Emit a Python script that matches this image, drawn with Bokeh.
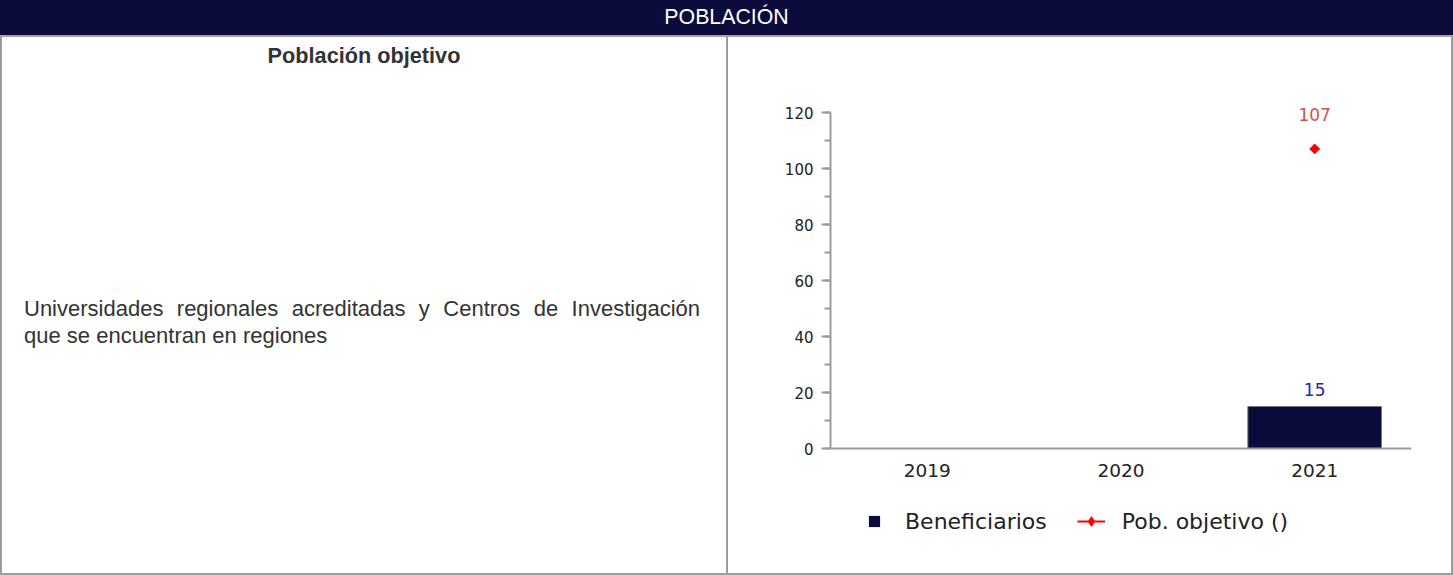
import math
from bokeh.plotting import figure
from bokeh.models import (ColumnDataSource, FactorRange, Range1d, Div, LabelSet,
                          Legend, LegendItem, SingleIntervalTicker, InlineStyleSheet)
from bokeh.layouts import column, row
from bokeh.core.properties import value
from bokeh.embed import file_html
from bokeh.resources import INLINE

# ---------------- data ----------------
years = ["2019", "2020", "2021"]
beneficiarios = [None, None, 15]
pob_objetivo = [None, None, 107]
legend_labels = ["Beneficiarios", "Pob. objetivo ()"]
header_title = "POBLACIÓN"
panel_title = "Población objetivo"
panel_line1 = "Universidades regionales acreditadas y Centros de Investigación"
panel_line2 = "que se encuentran en regiones"

# ---------------- styles ----------------
NAVY = "#0b0c3b"
BORDER = "#9c9c9c"
TXT = "#333333"
CH_FONT = "DejaVu Sans"
HTML_FONT = "'Liberation Sans', Arial, sans-serif"

W = 1453
H = 575
HEAD_H = 37
LEFT_W = 728
BODY_H = H - HEAD_H - 2
CHART_W = W - LEFT_W - 2


def host_css():
    return [InlineStyleSheet(css=":host { font-size: 0px; line-height: 0; }")]


header = Div(
    text=(f'<div style="box-sizing:border-box;width:{W}px;height:{HEAD_H}px;background:{NAVY};'
          f'border-bottom:2px solid #a3a3a3;color:#ffffff;font-family:{HTML_FONT};'
          f'font-size:21.3px;line-height:35px;text-align:center;">{header_title}</div>'),
    width=W, height=HEAD_H, margin=0, stylesheets=host_css())

left_html = (
    f'<div style="box-sizing:border-box;position:relative;width:{LEFT_W}px;height:{BODY_H}px;'
    f'border-left:2px solid {BORDER};border-right:2px solid {BORDER};font-family:{HTML_FONT};color:{TXT};">'
    f'<div style="position:absolute;left:0;top:7px;width:{LEFT_W-4}px;text-align:center;font-weight:bold;'
    f'font-size:21.7px;line-height:24px;white-space:nowrap;">{panel_title}</div>'
    f'<div style="position:absolute;left:22px;top:258px;width:676px;font-size:22px;line-height:27px;'
    f'text-align:justify;text-align-last:justify;">{panel_line1}</div>'
    f'<div style="position:absolute;left:22px;top:285px;width:676px;font-size:22px;line-height:27px;'
    f'white-space:nowrap;">{panel_line2}</div>'
    f'</div>')
left = Div(text=left_html, width=LEFT_W, height=BODY_H, margin=0, stylesheets=host_css())

# ---------------- chart ----------------
p = figure(x_range=FactorRange(factors=years), y_range=Range1d(-40, 130),
           width=CHART_W, height=BODY_H, output_backend="svg", toolbar_location=None,
           min_border_left=102, min_border_right=40, min_border_top=47, min_border_bottom=13,
           background_fill_color="white", border_fill_color="white")
p.outline_line_color = None
p.grid.visible = False

bx = [y for y, v in zip(years, beneficiarios) if v is not None]
bv = [v for v in beneficiarios if v is not None]
src_b = ColumnDataSource(dict(x=bx, top=bv, label=[str(v) for v in bv]))

px = [y for y, v in zip(years, pob_objetivo) if v is not None]
pv = [v for v in pob_objetivo if v is not None]
src_p = ColumnDataSource(dict(x=px, y=pv, label=[str(v) for v in pv]))

p.vbar(x="x", top="top", bottom=0, width=0.69, source=src_b, fill_color=NAVY,
       line_color="#777777", line_width=1)
p.scatter(x="x", y="y", source=src_p, marker="square", angle=math.pi / 4, size=7,
          fill_color="#ff0000", line_color="#ff0000")

p.add_layout(LabelSet(x="x", y="top", text="label", source=src_b, y_offset=17,
                      text_align="center", text_baseline="middle",
                      text_font=value(CH_FONT), text_font_size=value("17px"),
                      text_color="#28289c"))
p.add_layout(LabelSet(x="x", y="y", text="label", source=src_p, y_offset=34,
                      text_align="center", text_baseline="middle",
                      text_font=value(CH_FONT), text_font_size=value("17px"),
                      text_color="#d65050"))

# axes
xa = p.xaxis[0]
xa.fixed_location = 0
xa.axis_line_color = BORDER
xa.axis_line_width = 2
xa.major_tick_out = 0
xa.major_tick_in = 0
xa.major_tick_line_color = None
xa.minor_tick_line_color = None
xa.major_label_text_font = CH_FONT
xa.major_label_text_font_size = "18.5px"
xa.major_label_text_color = "#222222"
xa.major_label_standoff = 15

ya = p.yaxis[0]
ya.bounds = (0, 120)
ya.ticker = SingleIntervalTicker(interval=20, num_minor_ticks=2)
ya.axis_line_color = BORDER
ya.axis_line_width = 2
ya.major_tick_line_color = BORDER
ya.major_tick_line_width = 2
ya.major_tick_out = 9
ya.major_tick_in = 0
ya.minor_tick_line_color = BORDER
ya.minor_tick_line_width = 2
ya.minor_tick_out = 6
ya.minor_tick_in = 0
ya.major_label_text_font = CH_FONT
ya.major_label_text_font_size = "15px"
ya.major_label_text_color = "#222222"
ya.major_label_standoff = 8

# legend glyphs: zero-size markers on the real data (invisible in the plot,
# the legend draws its own sized glyph)
lg1 = p.scatter(x="x", y="top", source=src_b, marker="square", size=0,
                fill_color=NAVY, line_color=None)
lg2a = p.line(x="x", y="y", source=src_p, line_color="#ff0000", line_width=2)
lg2b = p.scatter(x="x", y="y", source=src_p, marker="diamond", size=0,
                 fill_color="#ff0000", line_color=None)
legend = Legend(items=[LegendItem(label=legend_labels[0], renderers=[lg1]),
                       LegendItem(label=legend_labels[1], renderers=[lg2a, lg2b])],
                orientation="horizontal", location=(25, 19), margin=0,
                label_text_font=CH_FONT, label_text_font_size="22px", label_text_color="#222222",
                glyph_width=28, glyph_height=30, label_standoff=17, spacing=30, padding=5,
                border_line_alpha=0, background_fill_alpha=0)
p.add_layout(legend)

rborder = Div(text=f'<div style="width:2px;height:{BODY_H}px;background:{BORDER};"></div>',
              width=2, height=BODY_H, margin=0, stylesheets=host_css())
bborder = Div(text=f'<div style="width:{W}px;height:2px;background:{BORDER};"></div>',
              width=W, height=2, margin=0, stylesheets=host_css())

layout = column(header, row(left, p, rborder, spacing=0), bborder, spacing=0)

open("out.html", "w").write(file_html(layout, INLINE))
